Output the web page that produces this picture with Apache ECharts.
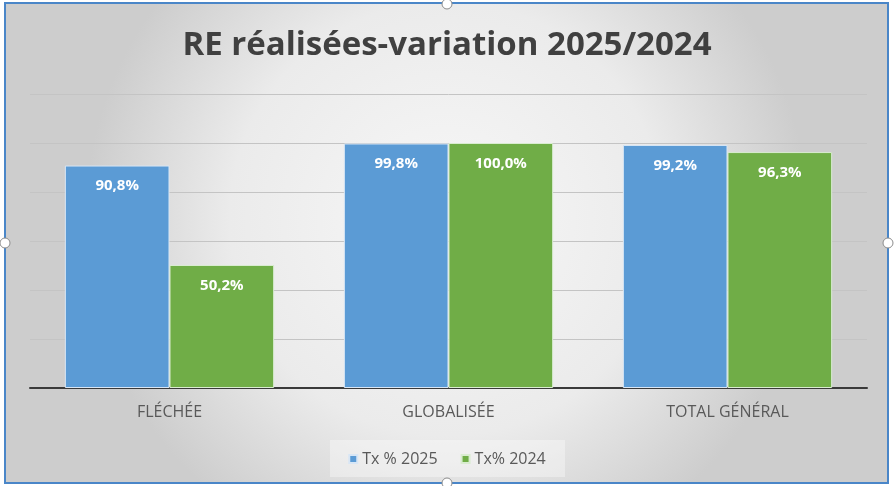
<!DOCTYPE html>
<html><head><meta charset="utf-8">
<script src="https://cdn.jsdelivr.net/npm/echarts@6/dist/echarts.min.js"></script>
<style>html,body{margin:0;padding:0;background:#fff}#c{width:894px;height:486px}</style>
</head><body><div id="c"></div>
<script>
const categories = ['FLÉCHÉE', 'GLOBALISÉE', 'TOTAL GÉNÉRAL'];
const seriesNames = ['Tx % 2025', 'Tx% 2024'];
const tx2025 = [90.8, 99.8, 99.2];
const tx2024 = [50.2, 100.0, 96.3];
const titleText = 'RE réalisées-variation 2025/2024';

const chart = echarts.init(document.getElementById('c'), null, {renderer: 'canvas'});
const fmt = p => p.value.toFixed(1).replace('.', ',') + '%';
const labelCfg = {show: true, position: 'insideTop', distance: 13, color: '#ffffff', fontWeight: 'bold', fontSize: 15, fontFamily: 'Open Sans', formatter: fmt};
const handle = (x, y) => ({type: 'circle', shape: {cx: x, cy: y, r: 5}, style: {fill: '#ffffff', stroke: '#8c8c8c', lineWidth: 1}, z: 10});
chart.setOption({
  animation: false,
  backgroundColor: '#ffffff',
  graphic: [
    {type: 'rect', shape: {x: 5, y: 3, width: 883, height: 480}, z: -10,
      style: {stroke: '#4a86c8', lineWidth: 2,
        fill: {type: 'radial', x: 0.5, y: 0.45, r: 0.75, colorStops: [{offset: 0, color: '#f7f7f7'}, {offset: 0.6, color: '#ebebeb'}, {offset: 1, color: '#cdcdcd'}]}}},
    {type: 'rect', shape: {x: 330, y: 440, width: 235, height: 37}, z: -5, style: {fill: 'rgba(255,255,255,0.35)'}},
    handle(447, 4), handle(5, 243), handle(888, 243), handle(447, 483)
  ],
  title: {text: titleText, left: 'center', top: 24, textStyle: {fontFamily: 'Open Sans', fontWeight: 'bold', fontSize: 33, color: '#404040'}},
  legend: {data: seriesNames, bottom: 14, left: 'center', itemWidth: 8, itemHeight: 8, itemGap: 23, icon: 'rect',
    textStyle: {fontFamily: 'Open Sans', fontSize: 16, color: '#595959'}},
  grid: {left: 30, right: 27, top: 94, bottom: 98, containLabel: false},
  xAxis: {type: 'category', data: categories,
    axisLine: {lineStyle: {color: '#3a3a3a', width: 2}}, axisTick: {show: false},
    axisLabel: {fontFamily: 'Open Sans', fontSize: 16, color: '#595959', margin: 16}},
  yAxis: {type: 'value', min: 0, max: 120, interval: 20, axisLabel: {show: false}, axisLine: {show: false}, axisTick: {show: false},
    splitLine: {lineStyle: {color: '#c4c4c4', width: 1}}},
  series: [
    {name: seriesNames[0], type: 'bar', data: tx2025, barWidth: '37.5%', barGap: '0%',
      itemStyle: {color: '#5b9bd5', borderColor: '#d8e6f5', borderWidth: 1}, label: labelCfg},
    {name: seriesNames[1], type: 'bar', data: tx2024, barWidth: '37.5%',
      itemStyle: {color: '#70ad47', borderColor: '#d9ecd0', borderWidth: 1}, label: labelCfg}
  ]
});
</script></body></html>
